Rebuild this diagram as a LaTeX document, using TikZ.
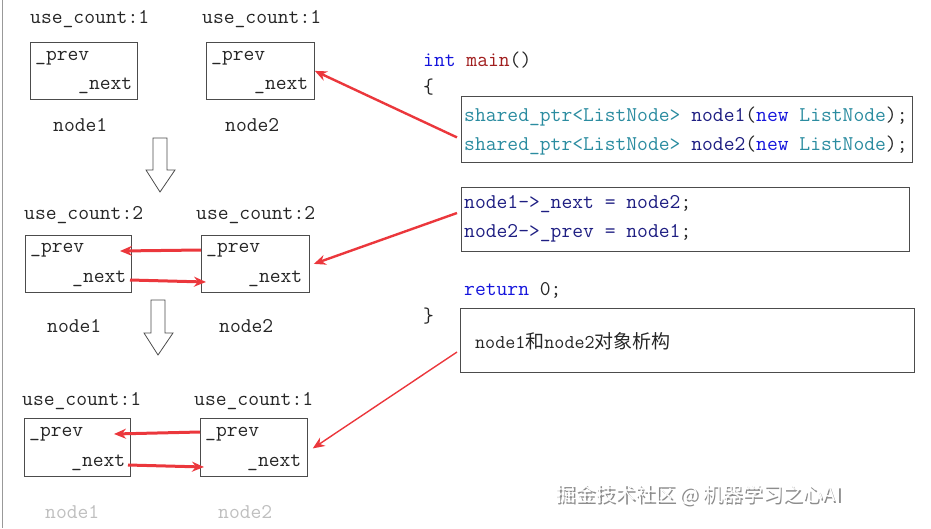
\documentclass[tikz,border=0pt]{standalone}
\usepackage{fontspec}
\newfontfamily\cjk{Noto Sans CJK SC}
\usetikzlibrary{arrows.meta}
\definecolor{kw}{RGB}{20,20,220}
\definecolor{fn}{RGB}{160,30,30}
\definecolor{ty}{RGB}{43,140,160}
\definecolor{vr}{RGB}{30,30,130}
\definecolor{rd}{RGB}{235,55,60}
\begin{document}
\begin{tikzpicture}[x=1pt,y=-1pt,
  t/.style={font=\ttfamily\fontsize{21}{21}\selectfont,text=black!85,inner sep=0pt,anchor=west},
  box/.style={draw=black!70,line width=0.8pt,anchor=north west,inner sep=0pt},
  ra/.style={draw=rd,line width=3pt,-{Stealth[length=12pt,width=10pt]}},
  down/.style={draw=black!70,line width=0.8pt,fill=white}]
\useasboundingbox (0,0) rectangle (931,528);
\draw[black!40] (2,0) -- (2,528);
% row 1
\node[t] (l1a) at (30,19) {use\_count:1};
\node[t] (l1b) at (202,19) {use\_count:1};
\node[box,minimum width=107,minimum height=57] (b1a) at (30,42) {};
\node[box,minimum width=108,minimum height=57] (b1b) at (206,42) {};
\node[t] (p1a) at (35,58) {\_prev};
\node[t] (n1a) at (78,86) {\_next};
\node[t] (p1b) at (211,58) {\_prev};
\node[t] (n1b) at (254,86) {\_next};
\node[t] (m1a) at (53,125) {node1};
\node[t] (m1b) at (225,125) {node2};
\draw[down] (153,138) -- (167,138) -- (167,170) -- (175,170) -- (160,192) -- (146,170) -- (153,170) -- cycle;
% row 2
\node[t] (l2a) at (24,215) {use\_count:2};
\node[t] (l2b) at (196,215) {use\_count:2};
\node[box,minimum width=106,minimum height=57] (b2a) at (25,235) {};
\node[box,minimum width=108,minimum height=57] (b2b) at (201,235) {};
\node[t] (p2a) at (30,250) {\_prev};
\node[t] (n2a) at (72,279) {\_next};
\node[t] (p2b) at (206,250) {\_prev};
\node[t] (n2b) at (248,279) {\_next};
\node[t] (m2a) at (47,326) {node1};
\node[t] (m2b) at (219,326) {node2};
\draw[down] (151,300) -- (165,300) -- (165,333) -- (173,333) -- (158,355) -- (144,333) -- (151,333) -- cycle;
% row 3
\node[t] (l3a) at (22,401) {use\_count:1};
\node[t] (l3b) at (194,401) {use\_count:1};
\node[box,minimum width=106,minimum height=58] (b3a) at (24,418) {};
\node[box,minimum width=107,minimum height=58] (b3b) at (200,418) {};
\node[t] (p3a) at (29,434) {\_prev};
\node[t] (n3a) at (71,463) {\_next};
\node[t] (p3b) at (205,434) {\_prev};
\node[t] (n3b) at (247,463) {\_next};
\node[t,text=black!25] (m3a) at (45,512) {node1};
\node[t,text=black!25] (m3b) at (218,512) {node2};
% inner arrows
\coordinate (a1s) at (201,250); \coordinate (a1e) at (120,251);
\coordinate (a2s) at (130,280); \coordinate (a2e) at (206,282);
\coordinate (a3s) at (200,432); \coordinate (a3e) at (114,434);
\coordinate (a4s) at (128,465); \coordinate (a4e) at (204,467);
\draw[ra] (a1s) -- (a1e);
\draw[ra] (a2s) -- (a2e);
\draw[ra] (a3s) -- (a3e);
\draw[ra] (a4s) -- (a4e);
% code
\node[t] (c1) at (423,60) {\textcolor{kw}{int} \textcolor{fn}{main}()};
\node[t] (c2) at (423,87) {\{};
\node[box,minimum width=451,minimum height=66] (k1) at (461,96) {};
\node[t] (c3) at (464,117) {\textcolor{ty}{shared\_ptr<ListNode>} \textcolor{vr}{node1}(\textcolor{kw}{new} \textcolor{ty}{ListNode});};
\node[t] (c4) at (464,146) {\textcolor{ty}{shared\_ptr<ListNode>} \textcolor{vr}{node2}(\textcolor{kw}{new} \textcolor{ty}{ListNode});};
\node[box,minimum width=448,minimum height=64] (k2) at (461,187) {};
\node[t] (c5) at (464,204) {\textcolor{vr}{node1->\_next = node2};};
\node[t] (c6) at (464,233) {\textcolor{vr}{node2->\_prev = node1};};
\node[t] (c7) at (464,290) {\textcolor{kw}{return} 0;};
\node[t] (c8) at (423,316) {\}};
\node[box,minimum width=454,minimum height=64] (k3) at (460,308) {};
\node[t,font=\ttfamily\fontsize{19.5}{19}\selectfont] (c9) at (475,341) {node1{\cjk\fontsize{19}{19}\selectfont 和}node2{\cjk\fontsize{19}{19}\selectfont 对象析构}};
% diagonal arrows
\draw[ra,line width=2.4pt] (k1.west) ++(-4,8) -- (b1b.east);
\draw[ra,line width=2.4pt] (457,213) -- ([xshift=4pt]b2b.east);
\draw[ra,line width=1.4pt] (457,352) -- ([xshift=5pt,yshift=-1pt]b3b.east);
% watermark
\node[anchor=west,inner sep=0pt,font=\cjk\fontsize{20}{20}\selectfont,text=black!45] (wm0) at (556.8,496.8) {掘金技术社区 @ 机器学习之心AI};
\node[anchor=west,inner sep=0pt,font=\cjk\fontsize{20}{20}\selectfont,text=white] (wm) at (555,495) {掘金技术社区 @ 机器学习之心AI};
\end{tikzpicture}
\end{document}
